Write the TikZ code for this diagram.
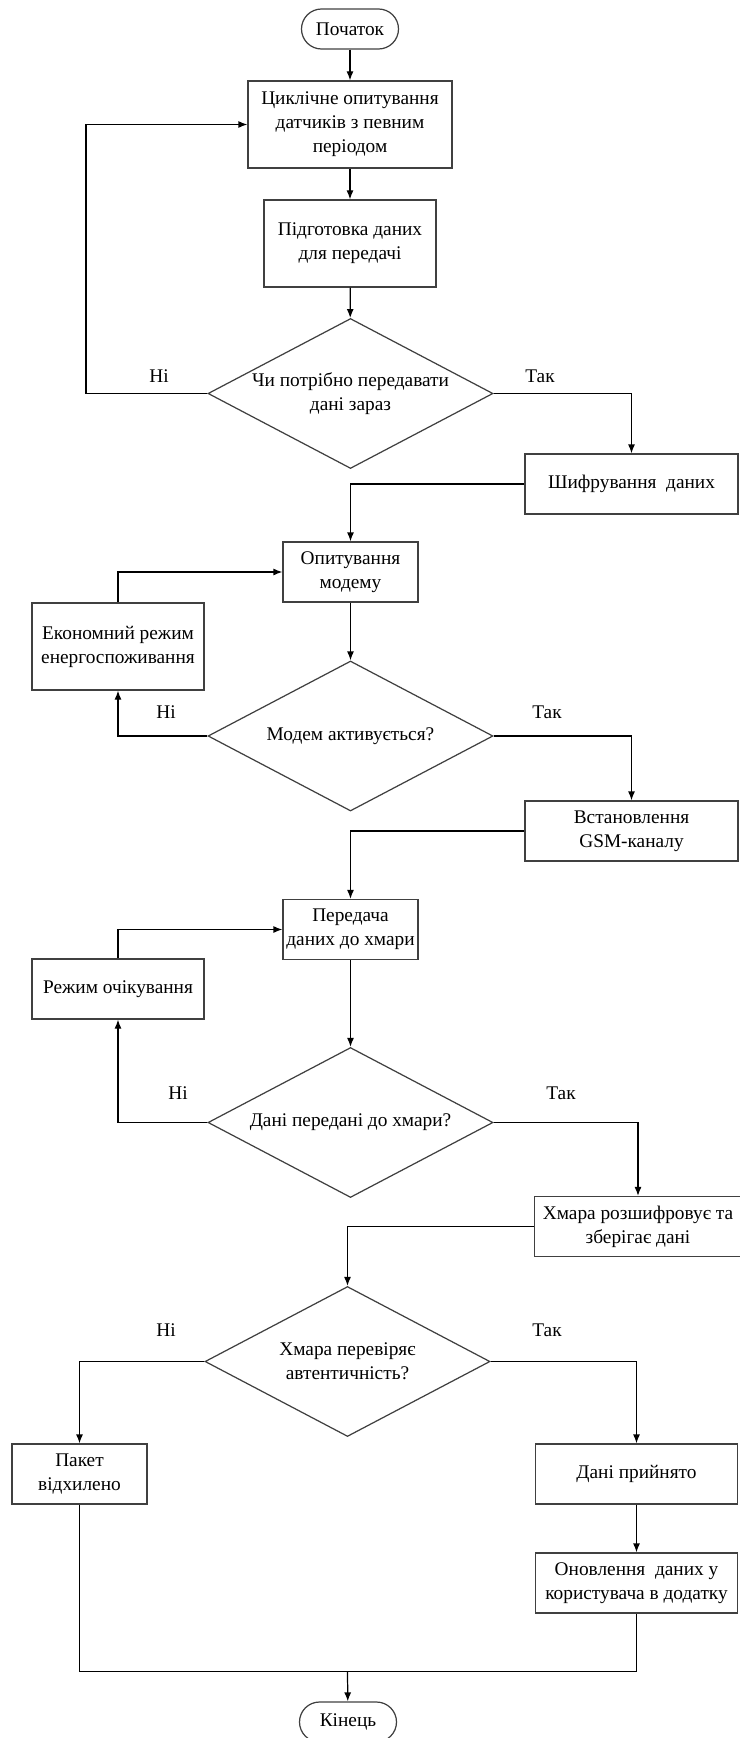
\documentclass[tikz,border=0pt]{standalone}
\usepackage{fontspec}
\setmainfont{Liberation Serif}
\usetikzlibrary{arrows.meta,shapes.geometric}

\begin{document}
\begin{tikzpicture}[font=\fontsize{11}{13.6}\selectfont,
  arr/.style={-{Latex[length=1.8mm,width=1.4mm]}},
  proc/.style={draw=black!75,line width=0.7pt,rectangle,align=center,inner sep=0pt},
  term/.style={draw=black!75,line width=0.7pt,rectangle,rounded corners=0.4cm,minimum width=1.94cm,minimum height=0.8cm},
  decide/.style={draw=black!75,line width=0.7pt,diamond,aspect=1.9,inner sep=-1.5pt,align=center,minimum width=5.7cm,minimum height=3cm},
  lbl/.style={inner sep=0pt}]
 \useasboundingbox (0,0) rectangle (14.78,-34.76);
 \tikzset{every path/.append style={line width=0.7pt}}
 % main column
 \node[term] (start) at (7.0,-0.58) {Початок};
 \node[proc,minimum width=4.08cm,minimum height=1.74cm] (poll) at (7.0,-2.49) {Циклічне опитування\\датчиків з певним\\періодом};
 \node[proc,minimum width=3.44cm,minimum height=1.74cm] (prep) at (7.0,-4.87) {Підготовка даних\\для передачі};
 \node[decide] (send) at (7.01,-7.87) {Чи потрібно передавати\\дані зараз};
 \node[proc,minimum width=4.26cm,minimum height=1.2cm] (crypt) at (12.63,-9.68) {Шифрування~ даних};
 \node[proc,minimum width=2.7cm,minimum height=1.2cm] (modem) at (7.01,-11.44) {Опитування\\модему};
 \node[proc,minimum width=3.44cm,minimum height=1.74cm] (eco) at (2.36,-12.93) {Економний режим\\енергоспоживання};
 \node[decide] (act) at (7.01,-14.72) {Модем активується?};
 \node[proc,minimum width=4.26cm,minimum height=1.2cm] (gsm) at (12.63,-16.62) {Встановлення\\GSM-каналу};
 \node[proc,minimum width=2.7cm,minimum height=1.2cm] (tx) at (7.01,-18.59) {Передача\\даних до хмари};
 \node[proc,minimum width=3.44cm,minimum height=1.2cm] (wait) at (2.36,-19.78) {Режим очікування};
 \node[decide] (sent) at (7.01,-22.45) {Дані передані до хмари?};
 \node[proc,minimum width=4.14cm,minimum height=1.2cm] (cloud) at (12.76,-24.53) {Хмара розшифровує та\\зберігає дані};
 \node[decide] (auth) at (6.95,-27.23) {Хмара перевіряє\\автентичність?};
 \node[proc,minimum width=2.7cm,minimum height=1.2cm] (rej) at (1.59,-29.48) {Пакет\\відхилено};
 \node[proc,minimum width=4.04cm,minimum height=1.2cm] (acc) at (12.73,-29.48) {Дані прийнято};
 \node[proc,minimum width=4.04cm,minimum height=1.2cm] (upd) at (12.73,-31.66) {Оновлення~ даних у\\користувача в додатку};
 \node[term] (fin) at (6.96,-34.44) {Кінець};
 % yes / no labels
 \node[lbl] (no1) at (3.18,-7.52) {Ні};   \node[lbl] (yes1) at (10.8,-7.52) {Так};
 \node[lbl] (no2) at (3.32,-14.24) {Ні};  \node[lbl] (yes2) at (10.94,-14.24) {Так};
 \node[lbl] (no3) at (3.56,-21.86) {Ні};  \node[lbl] (yes3) at (11.22,-21.86) {Так};
 \node[lbl] (no4) at (3.32,-26.6) {Ні};   \node[lbl] (yes4) at (10.94,-26.6) {Так};
 \coordinate (loopL) at (1.72,-7.87);
 \coordinate (mrg) at (6.95,-33.43);
 % connectors
 \draw[arr] (start) -- (poll);
 \draw[arr] (poll) -- (prep);
 \draw[arr] (prep) -- (send);
 \draw[arr] (send.west) -- (loopL) |- (poll.west);
 \draw[arr] (send.east) -| (crypt.north);
 \draw[arr] (crypt.west) -| (modem.north);
 \draw[arr] (modem) -- (act);
 \draw[arr] (act.west) -| (eco.south);
 \draw[arr] (eco.north) |- (modem.west);
 \draw[arr] (act.east) -| (gsm.north);
 \draw[arr] (gsm.west) -| (tx.north);
 \draw[arr] (tx) -- (sent);
 \draw[arr] (sent.west) -| (wait.south);
 \draw[arr] (wait.north) |- (tx.west);
 \draw[arr] (sent.east) -| (cloud.north);
 \draw[arr] (cloud.west) -| (auth.north);
 \draw[arr] (auth.west) -| (rej.north);
 \draw[arr] (auth.east) -| (acc.north);
 \draw[arr] (acc) -- (upd);
 \draw (rej.south) |- (mrg) -| (upd.south);
 \draw[arr] (mrg) -- (fin);
\end{tikzpicture}
\end{document}
